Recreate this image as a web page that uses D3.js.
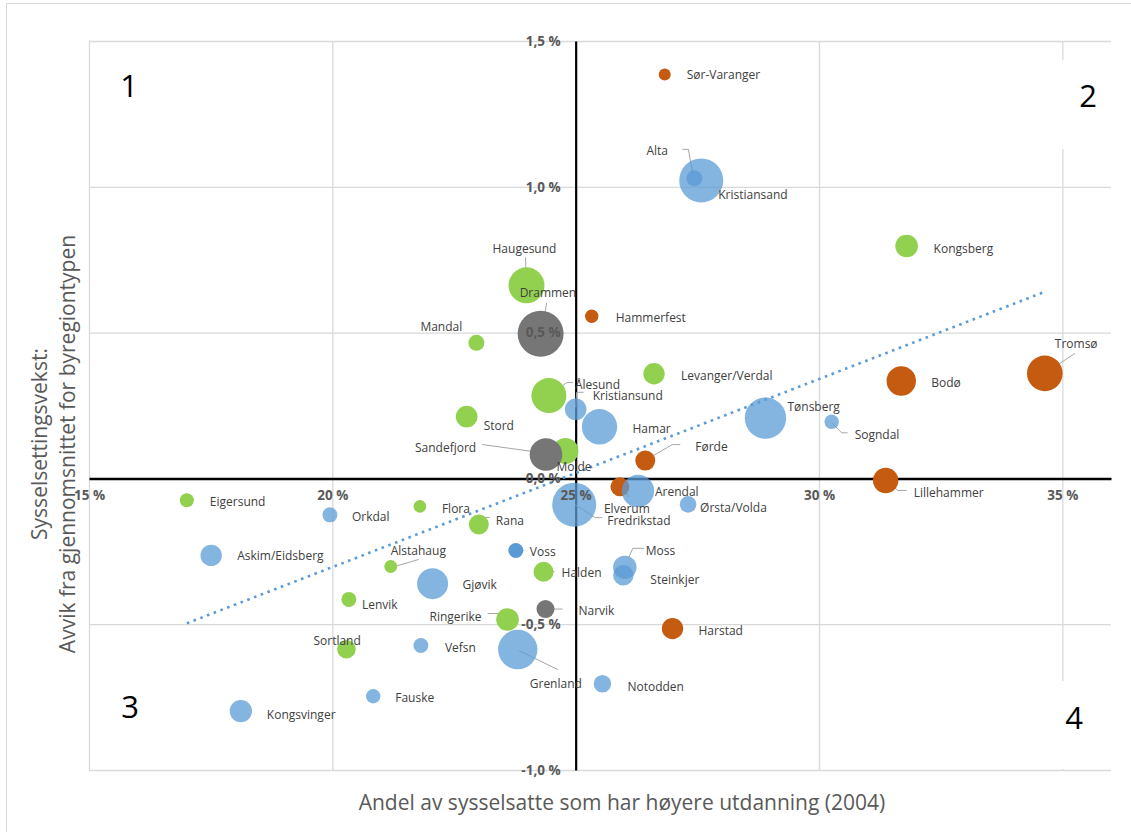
<!DOCTYPE html>
<html><head><meta charset="utf-8">
<script src="https://cdn.jsdelivr.net/npm/d3@7"></script>
<style>body{margin:0;background:#fff}svg{display:block}</style>
</head><body><svg id="c" width="1131" height="832"></svg>
<script>
// ---------- DATA ----------
const names = ["Sør-Varanger","Alta","Kristiansand","Kongsberg","Haugesund","Drammen","Mandal","Hammerfest",
  "Levanger/Verdal","Ålesund","Kristiansund","Hamar","Tønsberg","Stord","Sandefjord","Molde","Førde","Sogndal",
  "Bodø","Tromsø","Lillehammer","Elverum","Arendal","Fredrikstad","Ørsta/Volda","Eigersund","Orkdal","Flora",
  "Rana","Askim/Eidsberg","Voss","Alstahaug","Halden","Moss","Steinkjer","Gjøvik","Lenvik","Narvik","Ringerike",
  "Harstad","Sortland","Vefsn","Grenland","Notodden","Fauske","Kongsvinger"];
// Andel høyere utdanning 2004 (%)
const eduShare = [26.83,27.44,27.58,31.80,23.99,24.28,22.96,25.33,
  26.61,24.45,25.00,25.49,28.90,22.76,24.39,24.79,26.43,30.26,
  31.69,34.64,31.37,25.91,26.28,24.97,27.31,17.01,19.95,21.80,
  23.01,17.51,23.77,21.20,24.34,26.01,25.98,22.06,20.34,24.38,23.60,
  26.99,20.29,21.82,23.81,25.55,20.84,18.12];
// Avvik i sysselsettingsvekst (%-poeng)
const growthDev = [1.385,1.029,1.022,0.797,0.662,0.496,0.465,0.556,
  0.359,0.284,0.237,0.177,0.207,0.212,0.082,0.094,0.061,0.194,
  0.334,0.360,-0.007,-0.029,-0.043,-0.090,-0.089,-0.075,-0.125,-0.096,
  -0.158,-0.264,-0.247,-0.302,-0.320,-0.305,-0.332,-0.361,-0.415,-0.448,-0.484,
  -0.515,-0.586,-0.573,-0.587,-0.704,-0.747,-0.798];
// bubble size (relative)
const bubbleSize = [36,64,484,128,324,529,64,45,
  114,306,117,313,428,117,266,169,100,52,
  216,317,161,90,262,484,69,49,56,40,
  100,114,56,42,100,137,106,240,56,81,128,
  114,86,56,388,77,52,125];
const regionGroup = ["o","b","b","g","g","k","g","o",
  "g","g","b","b","b","g","k","g","o","b",
  "o","o","o","o","b","b","b","g","b","g",
  "g","b","v","g","g","b","b","b","g","k","g",
  "o","g","b","b","b","b","b"];
const xTicks = [15,20,25,30,35];
const xTickLabels = ["15 %","20 %","25 %","30 %","35 %"];
const yTicks = [-1,-0.5,0,0.5,1,1.5];
const yTickLabels = ["-1,0 %","-0,5 %","0,0 %","0,5 %","1,0 %","1,5 %"];
const trendX = [17.01, 34.64];
const trendY = [-0.497, 0.640];
const quadrantLabels = ["1","2","3","4"];
const xTitle = "Andel av sysselsatte som har høyere utdanning (2004)";
const yTitleLines = ["Sysselsettingsvekst:","Avvik fra gjennomsnittet for byregiontypen"];

// ---------- LAYOUT / STYLE ----------
const groupStyle = {
  o:{fill:"#C55A11",op:1}, g:{fill:"#92D050",op:1}, k:{fill:"#767676",op:1},
  b:{fill:"#5B9BD5",op:0.75}, v:{fill:"#5B9BD5",op:1}
};
const drawOrder = ["g","o","k","b","v"];
// label offsets (dx, dy from bubble centre in px) and optional leader polyline
const labelLayout = {
 "Sør-Varanger":[22,0],"Alta":[-48,-28,[[-12,-29],[-6,-29],[-1,-1]]],"Kristiansand":[17,14],
 "Kongsberg":[27,3],"Haugesund":[-34,-37,[[-1,-28],[0,0]]],"Drammen":[-21,-41,[[6,-31],[2,-7]]],
 "Mandal":[-56,-16],"Hammerfest":[24,1],"Levanger/Verdal":[27,2],
 "Ålesund":[26,-11,[[24,-13],[18,-13],[1,-1]]],"Kristiansund":[17,-14,[[8,-17],[1,-17],[0,-2]]],
 "Hamar":[33,2],"Tønsberg":[22,-12],"Stord":[17,9],"Sandefjord":[-131,-7,[[-64,-10],[1,-1]]],
 "Molde":[-9,16],"Førde":[50,-14,[[35,-16],[27,-16],[1,-1]]],"Sogndal":[23,13,[[16,11],[10,11],[0,1]]],
 "Bodø":[30,1],"Tromsø":[10,-30,[[30,-20],[0,0]]],"Lillehammer":[28,12,[[21,10],[12,10],[1,0]]],
 "Elverum":[-16,22,[[1,0],[9,10]]],"Arendal":[17,1],"Fredrikstad":[33,16,[[1,0],[21,13],[28,13]]],
 "Ørsta/Volda":[12,3],"Eigersund":[23,1],"Orkdal":[22,2],"Flora":[22,2],
 "Rana":[17,-4,[[11,-7],[3,-7],[0,-1]]],"Askim/Eidsberg":[26,0],"Voss":[14,1,[[1,0],[8,0]]],
 "Alstahaug":[0,-16,[[28,-7],[4,0]]],"Halden":[18,1,[[11,0],[0,0]]],
 "Moss":[21,-17,[[19,-19],[8,-19],[4,-10]]],"Steinkjer":[27,4],"Gjøvik":[30,1],"Lenvik":[13,5],
 "Narvik":[33,1,[[17,0],[1,0]]],"Ringerike":[-78,-3,[[-20,-6],[-8,-6],[0,0]]],"Harstad":[26,2],
 "Sortland":[-33,-9],"Vefsn":[24,2],"Grenland":[12,34,[[1,1],[40,20]]],"Notodden":[25,3],
 "Fauske":[22,1],"Kongsvinger":[26,3]
};
const quadPos = [[129,85,null],[1088,95,[1048,60,76,89]],[130,706,null],[1074,717,[1040,681,68,88]]];

const FONT = "'Open Sans', 'Liberation Sans', sans-serif";
const svg = d3.select("#c");
const L = 89, R = 1111, T = 41, B = 770;
const x = d3.scaleLinear().domain([15,36]).range([L,R]);
const y = d3.scaleLinear().domain([-1,1.5]).range([B,T]);
const r = d3.scaleSqrt().domain([0,484]).range([0,22]);

// outer chart border
svg.append("rect").attr("x",6.5).attr("y",3.5).attr("width",1140).attr("height",840)
  .attr("fill","#fff").attr("stroke","#D9D9D9").attr("stroke-width",1);

// gridlines
const gx = svg.append("g").attr("transform",`translate(0,${B})`)
  .call(d3.axisBottom(x).tickValues(xTicks).tickSize(-(B-T)).tickFormat(""));
const gy = svg.append("g").attr("transform",`translate(${L},0)`)
  .call(d3.axisLeft(y).tickValues(yTicks).tickSize(-(R-L)).tickFormat(""));
[gx,gy].forEach(g=>{g.select(".domain").remove();
  g.selectAll("line").attr("stroke","#D9D9D9").attr("stroke-width",1.3);});

// white text boxes of quadrant numbers
quadPos.forEach(q=>{ if(q[2]) svg.append("rect").attr("x",q[2][0]).attr("y",q[2][1])
  .attr("width",q[2][2]).attr("height",q[2][3]).attr("fill","#fff"); });

// axis lines (crossing at 25 %, 0 %)
const ax = svg.append("g").attr("transform",`translate(0,${y(0)})`)
  .call(d3.axisBottom(x).tickValues([]).tickSizeOuter(0));
ax.select(".domain").attr("stroke","#000").attr("stroke-width",2.5);
const ay = svg.append("g").attr("transform",`translate(${x(25)},0)`)
  .call(d3.axisLeft(y).tickValues([]).tickSizeOuter(0));
ay.select(".domain").attr("stroke","#000").attr("stroke-width",2.2);

// data
const pts = names.map((n,i)=>({name:n,x:eduShare[i],y:growthDev[i],s:bubbleSize[i],g:regionGroup[i]}));

// leader lines
const leadG = svg.append("g");
pts.forEach(p=>{
  const lay = labelLayout[p.name]; if(!lay || !lay[2]) return;
  const cx = x(p.x), cy = y(p.y);
  leadG.append("polyline").attr("points", lay[2].map(q=>[cx+q[0],cy+q[1]].join(",")).join(" "))
    .attr("fill","none").attr("stroke","#A6A6A6").attr("stroke-width",1);
});

// bubbles
const bub = svg.append("g");
drawOrder.forEach(gk=>{
  bub.selectAll(null).data(pts.filter(p=>p.g===gk)).join("circle")
    .attr("cx",d=>x(d.x)).attr("cy",d=>y(d.y)).attr("r",d=>r(d.s))
    .attr("fill",groupStyle[gk].fill).attr("fill-opacity",groupStyle[gk].op);
});

// trendline
svg.append("line").attr("x1",x(trendX[0])).attr("y1",y(trendY[0]))
  .attr("x2",x(trendX[1])).attr("y2",y(trendY[1]))
  .attr("stroke","#5B9BD5").attr("stroke-width",2.6).attr("stroke-dasharray","2.6 4.6");

// tick labels
const tx = svg.append("g").attr("transform",`translate(0,${y(0)})`)
  .call(d3.axisBottom(x).tickValues(xTicks).tickFormat((d,i)=>xTickLabels[i]).tickSize(0).tickPadding(12));
const ty = svg.append("g").attr("transform",`translate(${x(25)},0)`)
  .call(d3.axisLeft(y).tickValues(yTicks).tickFormat((d,i)=>yTickLabels[i]).tickSize(0).tickPadding(15));
[tx,ty].forEach(g=>{g.select(".domain").remove();
  g.selectAll("text").attr("font-family",FONT).attr("font-size",13.5).attr("font-weight","bold").attr("fill","#595959");});

// data labels
svg.append("g").selectAll("text").data(pts).join("text")
  .attr("x",d=>x(d.x)+labelLayout[d.name][0]).attr("y",d=>y(d.y)+labelLayout[d.name][1])
  .attr("dominant-baseline","central").attr("font-family",FONT).attr("font-size",12)
  .attr("fill","#404040").text(d=>d.name);

// quadrant numbers
svg.append("g").selectAll("text").data(quadrantLabels).join("text")
  .attr("x",(d,i)=>quadPos[i][0]).attr("y",(d,i)=>quadPos[i][1])
  .attr("text-anchor","middle").attr("dominant-baseline","central")
  .attr("font-family",FONT).attr("font-size",31).attr("fill","#000").text(d=>d);

// axis titles
svg.append("text").attr("x",622).attr("y",802).attr("text-anchor","middle").attr("dominant-baseline","central")
  .attr("font-family",FONT).attr("font-size",21).attr("fill","#595959").text(xTitle);
yTitleLines.forEach((t,i)=>{
  svg.append("text").attr("transform",`translate(${[39,67][i]},444) rotate(-90)`)
    .attr("text-anchor","middle").attr("dominant-baseline","central")
    .attr("font-family",FONT).attr("font-size",21).attr("fill","#595959").text(t);
});
</script></body></html>
